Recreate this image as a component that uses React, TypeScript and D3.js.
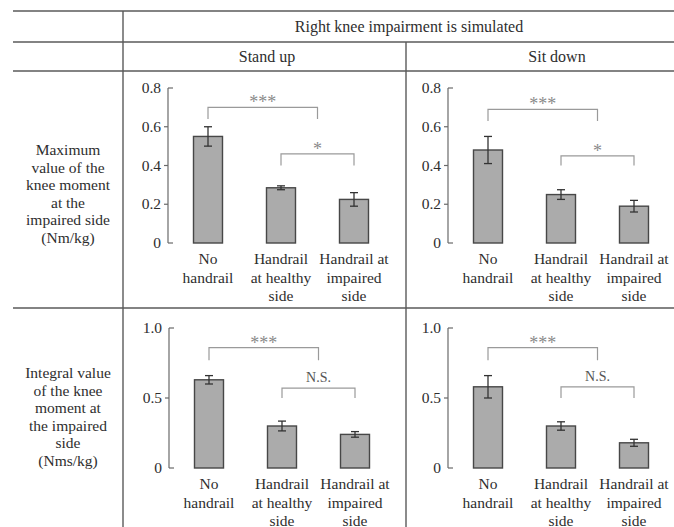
import React from "react";
import * as d3 from "d3";

// category labels (one entry per line)
const categories = [["No", "handrail"], ["Handrail", "at healthy", "side"], ["Handrail at", "impaired", "side"]];

// maximum knee moment (Nm/kg)
const standMax = [0.55, 0.285, 0.225];
const standMaxErr = [0.05, 0.01, 0.035];
const sitMax = [0.48, 0.25, 0.19];
const sitMaxErr = [0.07, 0.025, 0.03];

// integral knee moment (Nms/kg)
const standInt = [0.63, 0.3, 0.24];
const standIntErr = [0.03, 0.035, 0.02];
const sitInt = [0.58, 0.3, 0.18];
const sitIntErr = [0.08, 0.03, 0.025];

const maxTicks = [0, 0.2, 0.4, 0.6, 0.8];
const maxTickLabels = ["0", "0.2", "0.4", "0.6", "0.8"];
const intTicks = [0, 0.5, 1.0];
const intTickLabels = ["0", "0.5", "1.0"];

// significance brackets: from/to are bar indices, y and leg in data units
const standMaxBrackets = [
  { from: 0, to: 1.5, y: 0.7, leg: 0.64, label: "***" },
  { from: 1, to: 2, y: 0.46, leg: 0.4, label: "*" },
];
const sitMaxBrackets = [
  { from: 0, to: 1.5, y: 0.69, leg: 0.63, label: "***" },
  { from: 1, to: 2, y: 0.45, leg: 0.4, label: "*" },
];
const standIntBrackets = [
  { from: 0, to: 1.5, y: 0.86, leg: 0.77, label: "***" },
  { from: 1, to: 2, y: 0.57, leg: 0.5, label: "N.S." },
];
const sitIntBrackets = [
  { from: 0, to: 1.5, y: 0.86, leg: 0.77, label: "***" },
  { from: 1, to: 2, y: 0.58, leg: 0.5, label: "N.S." },
];

const rowLabelMax = ["Maximum", "value of the", "knee moment", "at the", "impaired side", "(Nm/kg)"];
const rowLabelInt = ["Integral value", "of the knee", "moment at", "the impaired", "side", "(Nms/kg)"];

const FONT = "Liberation Serif";
const TEXT = "#2e2e2e";
const LINE = "#5a5a5a";

function Label({ x, y, size = 15.5, anchor = "middle", fill = TEXT, children }) {
  return (
    <text x={x} y={y} textAnchor={anchor} fontSize={size} fontFamily={FONT} fill={fill}>{children}</text>
  );
}

function Panel({ axisX, yTop, yBottom, values, errs, ticks, tickLabels, brackets }) {
  const y = d3.scaleLinear().domain([0, ticks[ticks.length - 1]]).range([yBottom, yTop]);
  const x = d3.scaleLinear().domain([0, 2]).range([axisX + 40, axisX + 186]);
  const bw = 29;
  return (
    <g>
      <line x1={axisX} x2={axisX} y1={yTop} y2={yBottom} stroke="#6a6a6a" strokeWidth={1.2} />
      <line x1={axisX} x2={axisX + 5} y1={yTop} y2={yTop} stroke="#6a6a6a" strokeWidth={1.2} />
      <line x1={axisX} x2={axisX + 5} y1={yBottom} y2={yBottom} stroke="#6a6a6a" strokeWidth={1.2} />
      {ticks.map((t, i) => (
        <g key={i}>
          {i > 0 && i < ticks.length - 1 && (
            <line x1={axisX - 4} x2={axisX} y1={y(t)} y2={y(t)} stroke="#6a6a6a" strokeWidth={1.2} />
          )}
          <Label x={axisX - 7} y={y(t) + 5} anchor="end">{tickLabels[i]}</Label>
        </g>
      ))}
      {values.map((v, i) => {
        const cx = x(i);
        const e = errs[i];
        return (
          <g key={i}>
            <rect x={cx - bw / 2} y={y(v)} width={bw} height={yBottom - y(v)} fill="#ababab" stroke="#474747" strokeWidth={1.4} />
            <line x1={cx} x2={cx} y1={y(v - e)} y2={y(v + e)} stroke="#333" strokeWidth={1.3} />
            <line x1={cx - 4} x2={cx + 4} y1={y(v + e)} y2={y(v + e)} stroke="#333" strokeWidth={1.3} />
            <line x1={cx - 4} x2={cx + 4} y1={y(v - e)} y2={y(v - e)} stroke="#333" strokeWidth={1.3} />
            {categories[i].map((s, j) => (
              <Label key={j} x={cx} y={yBottom + 21 + j * 18.5}>{s}</Label>
            ))}
          </g>
        );
      })}
      {brackets.map((b, i) => {
        const x1 = x(b.from);
        const x2 = x(b.to);
        const by = y(b.y);
        const ly = y(b.leg);
        const stars = b.label.startsWith("*");
        return (
          <g key={i}>
            <path d={`M${x1},${ly}L${x1},${by}L${x2},${by}L${x2},${ly}`} fill="none" stroke="#9a9a9a" strokeWidth={1.2} />
            <Label x={(x1 + x2) / 2} y={stars ? by + 1 : by - 6} size={stars ? 18 : 14} fill={stars ? "#8a8a8a" : "#555"}>{b.label}</Label>
          </g>
        );
      })}
    </g>
  );
}

export default function App() {
  const W = 674;
  const H = 527;
  return (
    <svg width={W} height={H} style={{ position: "absolute", left: 0, top: 0, background: "#fff" }}>
      <rect width={W} height={H} fill="#fff" />
      {/* table grid */}
      {[11, 42, 71, 308].map((yy) => (
        <line key={yy} x1={13} x2={W} y1={yy} y2={yy} stroke={LINE} strokeWidth={1.4} />
      ))}
      <line x1={123} x2={123} y1={11} y2={H} stroke={LINE} strokeWidth={1.4} />
      <line x1={406} x2={406} y1={42} y2={H} stroke={LINE} strokeWidth={1.4} />

      <Label x={409} y={32} size={16}>Right knee impairment is simulated</Label>
      <Label x={267} y={62} size={16}>Stand up</Label>
      <Label x={557} y={62} size={16}>Sit down</Label>

      {rowLabelMax.map((s, i) => (
        <Label key={i} x={68} y={155 + i * 17.6}>{s}</Label>
      ))}
      {rowLabelInt.map((s, i) => (
        <Label key={i} x={68} y={378 + i * 17.6}>{s}</Label>
      ))}

      <Panel axisX={168} yTop={88} yBottom={243} values={standMax} errs={standMaxErr} ticks={maxTicks} tickLabels={maxTickLabels} brackets={standMaxBrackets} />
      <Panel axisX={448} yTop={88} yBottom={243} values={sitMax} errs={sitMaxErr} ticks={maxTicks} tickLabels={maxTickLabels} brackets={sitMaxBrackets} />
      <Panel axisX={169} yTop={328} yBottom={468} values={standInt} errs={standIntErr} ticks={intTicks} tickLabels={intTickLabels} brackets={standIntBrackets} />
      <Panel axisX={448} yTop={328} yBottom={468} values={sitInt} errs={sitIntErr} ticks={intTicks} tickLabels={intTickLabels} brackets={sitIntBrackets} />
    </svg>
  );
}
